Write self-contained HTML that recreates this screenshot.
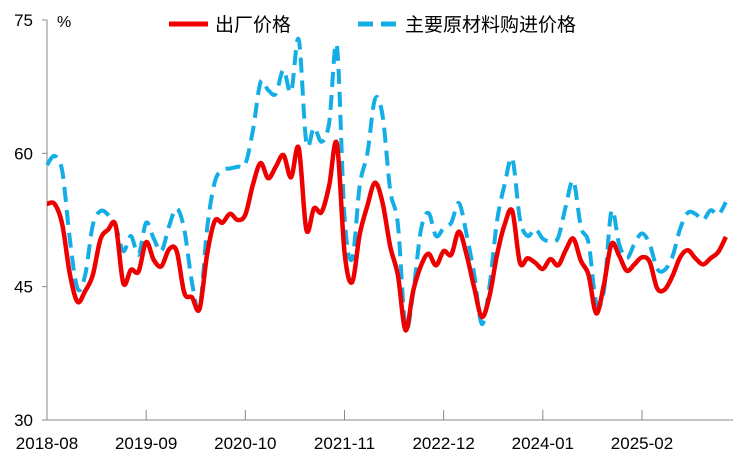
<!DOCTYPE html>
<html><head><meta charset="utf-8"><style>
body{margin:0;background:#fff}
svg{display:block;font-family:"Liberation Sans","Noto Sans CJK SC",sans-serif}
</style></head><body>
<svg id="chart" width="741" height="465" viewBox="0 0 741 465"></svg>
<script>
const startYear=2018,startMonth=8;
const outputPrice=[54.3,54.3,52.0,46.4,43.3,44.5,46.3,50.3,51.4,51.9,45.4,46.9,46.7,50.0,48.0,47.3,49.2,49.0,44.3,43.8,42.5,48.7,52.4,52.2,53.2,52.5,53.1,56.5,58.9,57.2,58.5,59.8,57.3,60.6,51.4,53.8,53.4,56.4,61.1,48.9,45.5,50.9,54.1,56.7,54.4,49.5,46.3,40.1,44.5,47.3,48.7,47.4,49.0,48.6,51.2,48.6,44.9,41.6,43.9,48.6,52.0,53.5,47.7,48.2,47.7,47.0,48.1,47.4,49.1,50.4,47.9,46.3,42.0,45.2,49.8,48.5,46.8,47.5,48.3,47.8,44.8,44.7,46.2,48.3,49.1,48.2,47.5,48.2,48.9,50.6];
const inputPrice=[58.7,59.7,58.0,50.3,44.8,46.3,51.9,53.5,53.1,51.8,49.0,50.7,48.6,52.2,50.4,49.0,51.8,53.8,51.4,45.5,42.5,51.6,56.8,58.1,58.3,58.5,58.8,62.6,68.0,67.1,66.7,69.4,66.9,72.8,61.2,62.9,61.3,63.5,72.1,52.9,48.1,56.4,60.0,66.1,64.2,55.8,52.0,40.4,44.3,51.3,53.3,50.7,51.6,52.2,54.4,50.9,46.4,40.8,45.0,52.4,56.5,59.4,52.6,50.7,51.5,50.4,50.1,50.5,54.0,56.9,51.7,49.9,43.2,44.5,53.5,49.8,48.2,49.8,51.0,49.8,47.0,46.9,48.4,51.5,53.3,53.2,52.5,53.6,53.1,54.5];
const yTicks=[30,45,60,75];
const xTickLabels=["2018-08","2019-09","2020-10","2021-11","2022-12","2024-01","2025-02"];
const xTickIdx=[0,13,26,39,52,65,78];

const X0=47,X1=733,Y0=420,Ytop=20,step=7.628;
const xs=i=>X0+i*step;
const ys=v=>Y0-(v-30)*(Y0-Ytop)/45;
const svg=document.getElementById('chart');
const NS='http://www.w3.org/2000/svg';
function mk(tag,attrs,parent){const e=document.createElementNS(NS,tag);for(const k in attrs)e.setAttribute(k,attrs[k]);(parent||svg).appendChild(e);return e;}

const ax=mk('line',{x1:X0,y1:Ytop,x2:X0,y2:Y0,stroke:'#888','stroke-width':1});


const bx=mk('line',{x1:X0,y1:Y0,x2:X1,y2:Y0,stroke:'#888','stroke-width':1});


yTicks.forEach(v=>{
  const t=mk('line',{x1:X0-5,y1:ys(v),x2:X0,y2:ys(v),stroke:'#888'});
  
  
  const l=mk('text',{x:33,y:ys(v)+6,'text-anchor':'end','font-size':17,fill:'#000'});
  l.textContent=v;
  
  
});
const unit=mk('text',{x:57,y:27,'font-size':16,fill:'#000'});
unit.textContent='%';


xTickIdx.forEach((idx,k)=>{
  const t=mk('line',{x1:xs(idx),y1:Y0-10,x2:xs(idx),y2:Y0,stroke:'#888'});
  
  
  const l=mk('text',{x:xs(idx),y:449,'text-anchor':'middle','font-size':17,fill:'#000'});
  l.textContent=xTickLabels[k];
  
  
});

function smoothPath(vals){
  const p=vals.map((v,i)=>[xs(i),ys(v)]);
  let d='M'+p[0][0]+','+p[0][1];
  for(let i=0;i<p.length-1;i++){
    const a=p[i-1]||p[i],b=p[i],c=p[i+1],e=p[i+2]||c;
    const c1=[b[0]+(c[0]-a[0])/6,b[1]+(c[1]-a[1])/6];
    const c2=[c[0]-(e[0]-b[0])/6,c[1]-(e[1]-b[1])/6];
    d+=`C${c1[0].toFixed(2)},${c1[1].toFixed(2)} ${c2[0].toFixed(2)},${c2[1].toFixed(2)} ${c[0].toFixed(2)},${c[1].toFixed(2)}`;
  }
  return d;
}
const blue=mk('path',{d:smoothPath(inputPrice),fill:'none',stroke:'#14aee6','stroke-width':4,'stroke-dasharray':'15,8'});


const red=mk('path',{d:smoothPath(outputPrice),fill:'none',stroke:'#ee0000','stroke-width':4.5});



const lg=mk('g',{});


const l1=mk('line',{x1:169,y1:24,x2:208,y2:24,stroke:'#ee0000','stroke-width':5},lg);


const t1=mk('text',{x:215,y:31,'font-size':19,fill:'#000'},lg);
t1.textContent='出厂价格';


const l2=mk('line',{x1:358,y1:24,x2:398,y2:24,stroke:'#14aee6','stroke-width':5,'stroke-dasharray':'15,8'},lg);


const t2=mk('text',{x:405,y:31,'font-size':19,fill:'#000'},lg);
t2.textContent='主要原材料购进价格';


</script>
</body></html>
